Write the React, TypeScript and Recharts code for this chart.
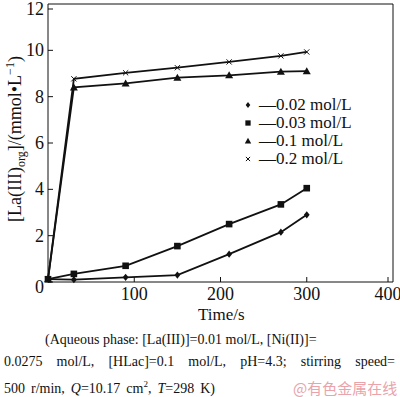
import React from 'react';
import { LineChart, Line, XAxis, YAxis, ReferenceLine } from 'recharts';

const times = [0, 30, 90, 150, 210, 270, 300];
const conc002 = [0.12, 0.1, 0.2, 0.3, 1.2, 2.15, 2.9];
const conc003 = [0.12, 0.35, 0.7, 1.55, 2.5, 3.35, 4.05];
const conc01 = [0.12, 8.4, 8.57, 8.82, 8.92, 9.08, 9.1];
const conc02 = [0.12, 8.77, 9.03, 9.25, 9.5, 9.76, 9.93];
const xTicks = [0, 100, 200, 300, 400];
const yTicks = [0, 2, 4, 6, 8, 10, 12];
const seriesNames = ['0.02 mol/L', '0.03 mol/L', '0.1 mol/L', '0.2 mol/L'];

const data = times.map((t, i) => ({
  t,
  a: conc002[i],
  b: conc003[i],
  c: conc01[i],
  d: conc02[i]
}));

const serif = '"Liberation Serif", "Times New Roman", serif';
const ink = '#111';

type Shape = 'diamond' | 'square' | 'triangle' | 'cross';

function Marker({ cx, cy, shape, s = 1 }: { cx: number; cy: number; shape: Shape; s?: number }) {
  if (cx == null || cy == null) return null;
  if (shape === 'diamond') {
    const r = 3.6 * s;
    return <polygon points={`${cx},${cy - r} ${cx + r * 0.8},${cy} ${cx},${cy + r} ${cx - r * 0.8},${cy}`} fill={ink} />;
  }
  if (shape === 'square') {
    const r = 3.3 * s;
    return <rect x={cx - r} y={cy - r} width={r * 2} height={r * 2} fill={ink} />;
  }
  if (shape === 'triangle') {
    const r = 4 * s;
    return <polygon points={`${cx},${cy - r} ${cx + r},${cy + r * 0.75} ${cx - r},${cy + r * 0.75}`} fill={ink} />;
  }
  const r = 2.6 * s;
  return (
    <g stroke={ink} strokeWidth={1}>
      <line x1={cx - r} y1={cy - r} x2={cx + r} y2={cy + r} />
      <line x1={cx - r} y1={cy + r} x2={cx + r} y2={cy - r} />
    </g>
  );
}

const shapes: Shape[] = ['diamond', 'square', 'triangle', 'cross'];

const tickText = { fontFamily: serif, fontSize: 18 };

const XTick = ({ x, y, payload }: any) => (
  <g>
    <line x1={x} x2={x} y1={y} y2={y - 5} stroke={ink} strokeWidth={1} />
    {payload.value !== 0 && (
      <text x={x} y={y + 18} textAnchor="middle" style={tickText} fill={ink}>
        {payload.value}
      </text>
    )}
  </g>
);

const YTick = ({ x, y, payload }: any) => (
  <g>
    <line x1={x} x2={x + 5} y1={y} y2={y} stroke={ink} strokeWidth={1} />
    <text x={x - 4} y={y + (payload.value === 0 ? 11 : 6)} textAnchor="end" style={tickText} fill={ink}>
      {payload.value}
    </text>
  </g>
);

const LegendBox = () => (
  <div style={{ position: 'absolute', left: 242, top: 96, fontFamily: serif, fontSize: 17, color: ink, lineHeight: '18px' }}>
    {seriesNames.map((name, i) => (
      <div key={name} style={{ display: 'flex', alignItems: 'center', height: 18, whiteSpace: 'nowrap' }}>
        <svg width={12} height={12} style={{ marginRight: 5 }}>
          <Marker cx={6} cy={6} shape={shapes[i]} s={0.8} />
        </svg>
        <span>—{name}</span>
      </div>
    ))}
  </div>
);

export default function App() {
  const keys = ['a', 'b', 'c', 'd'];
  return (
    <div
      style={{
        position: 'absolute',
        left: 0,
        top: 0,
        width: 400,
        height: 397,
        background: '#fff',
        fontFamily: serif,
        color: ink,
        overflow: 'hidden'
      }}
    >
      <div style={{ position: 'absolute', left: 0, top: 0 }}>
        <LineChart width={400} height={310} data={data} margin={{ top: 4, right: 7, left: 0, bottom: 10 }}>
          <XAxis
            dataKey="t"
            type="number"
            domain={[0, 400]}
            ticks={xTicks}
            height={18}
            tickSize={0}
            tickMargin={0}
            tickLine={false}
            tick={<XTick />}
            axisLine={{ stroke: ink, strokeWidth: 1 }}
          />
          <YAxis
            type="number"
            domain={[0, 12]}
            ticks={yTicks}
            width={48}
            tickSize={0}
            tickMargin={0}
            tickLine={false}
            tick={<YTick />}
            axisLine={{ stroke: ink, strokeWidth: 1 }}
          />
          <ReferenceLine y={12} stroke={ink} strokeWidth={1} />
          <ReferenceLine x={400} stroke={ink} strokeWidth={1} />
          {keys.map((k, i) => (
            <Line
              key={k}
              dataKey={k}
              name={seriesNames[i]}
              stroke={ink}
              strokeWidth={1.8}
              dot={(p: any) => <Marker key={`${k}-${p.index}`} cx={p.cx} cy={p.cy} shape={shapes[i]} />}
              isAnimationActive={false}
            />
          ))}
        </LineChart>
      </div>

      <LegendBox />

      <div
        style={{
          position: 'absolute',
          left: 16,
          top: 139,
          transform: 'translate(-50%, -50%) rotate(-90deg)',
          whiteSpace: 'nowrap',
          fontSize: 18
        }}
      >
        [La(III)<sub style={{ fontSize: 12 }}>org</sub>]/(mmol•L<sup style={{ fontSize: 12 }}>−1</sup>)
      </div>

      <div style={{ position: 'absolute', left: 198, top: 305, fontSize: 17 }}>Time/s</div>

      <div style={{ position: 'absolute', left: 0, top: 329, width: 400, fontSize: 14, lineHeight: '22px' }}>
        <div style={{ paddingLeft: 45 }}>(Aqueous phase: [La(III)]=0.01 mol/L, [Ni(II)]=</div>
        <div style={{ paddingLeft: 4, paddingRight: 5, textAlign: 'justify', textAlignLast: 'justify' }}>
          0.0275 mol/L, [HLac]=0.1 mol/L, pH=4.3; stirring speed=
        </div>
        <div style={{ paddingLeft: 4, wordSpacing: 2.5 }}>
          500 r/min, <i>Q</i>=10.17 cm<sup style={{ fontSize: 9 }}>2</sup>, <i>T</i>=298 K)
        </div>
      </div>

      <div
        style={{
          position: 'absolute',
          left: 293,
          top: 377,
          fontSize: 15,
          lineHeight: '22px',
          color: '#eaa3ab',
          fontFamily: '"Noto Sans CJK SC", sans-serif'
        }}
      >
        @有色金属在线
      </div>
    </div>
  );
}
